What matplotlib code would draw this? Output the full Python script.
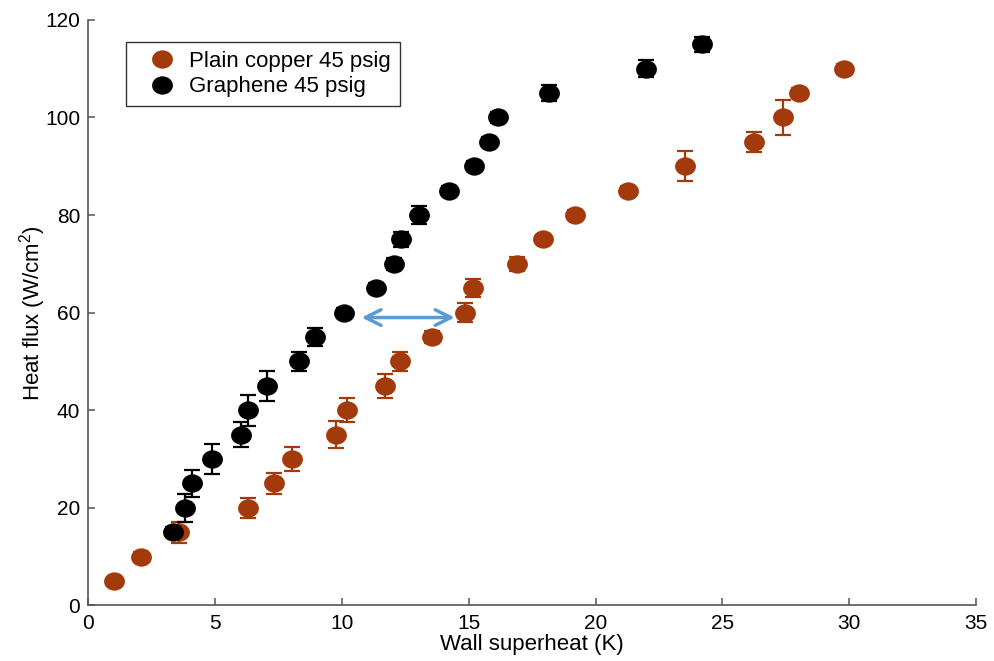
import numpy as np
import matplotlib
matplotlib.use('Agg')
import matplotlib.pyplot as plt
from matplotlib.path import Path

plt.rcParams['font.family'] = ['Liberation Sans', 'DejaVu Sans']
plt.rcParams['mathtext.fontset'] = 'custom'
plt.rcParams['mathtext.rm'] = 'Liberation Sans'
plt.rcParams['mathtext.default'] = 'regular'

# Plain copper, 45 psig
copper_dT = [1.0, 2.07, 3.57, 6.29, 7.30, 8.01, 9.78, 10.2, 11.7, 12.3, 13.56,
             14.85, 15.18, 16.9, 17.92, 19.18, 21.28, 23.54, 26.25, 27.37, 28.01, 29.8]
copper_q = [5, 10, 15, 20, 25, 30, 35, 40, 45, 50, 55,
            60, 65, 70, 75, 80, 85, 90, 95, 100, 105, 110]
copper_err = [0.5, 1.0, 2.2, 2.1, 2.1, 2.4, 2.8, 2.5, 2.4, 1.9, 1.2,
              1.9, 1.8, 1.5, 1.0, 1.0, 1.0, 3.1, 2.0, 3.5, 1.0, 1.0]

# Graphene coated, 45 psig
graphene_dT = [3.34, 3.79, 4.09, 4.89, 6.0, 6.29, 7.04, 8.29, 8.92, 10.06, 11.32,
               12.03, 12.34, 13.05, 14.23, 15.2, 15.8, 16.16, 18.17, 22.0, 24.2]
graphene_q = [15, 20, 25, 30, 35, 40, 45, 50, 55, 60, 65,
              70, 75, 80, 85, 90, 95, 100, 105, 110, 115]
graphene_err = [1.0, 2.8, 2.8, 3.1, 2.6, 3.2, 3.1, 1.9, 1.9, 1.0, 1.0,
                1.2, 1.5, 1.9, 1.0, 1.0, 1.0, 1.2, 1.6, 1.7, 1.5]

copper_col = '#a23a0c'
graphene_col = '#000000'

# slightly flattened circle marker
circ = Path.unit_circle()
oval = Path(circ.vertices * np.array([1.0, 0.88]), circ.codes)

fig = plt.figure(figsize=(9.94, 6.61), dpi=100)
ax = fig.add_axes([0.089, 0.084, 0.893, 0.886])

for dT, q, err, col in [(copper_dT, copper_q, copper_err, copper_col),
                        (graphene_dT, graphene_q, graphene_err, graphene_col)]:
    ax.errorbar(dT, q, yerr=err, fmt='none', ecolor=col, elinewidth=1.6,
                capsize=6, capthick=1.6, zorder=2)

ax.plot(copper_dT, copper_q, marker=oval, ls='none', color=copper_col, markersize=15,
        markeredgewidth=0, label='Plain copper 45 psig', zorder=3)
ax.plot(graphene_dT, graphene_q, marker=oval, ls='none', color=graphene_col, markersize=15,
        markeredgewidth=0, label='Graphene 45 psig', zorder=3)

# double arrow showing the superheat reduction at 60 W/cm2
i_g = graphene_q.index(60)
i_c = copper_q.index(60)
ax.annotate('', xy=(graphene_dT[i_g] + 0.6, 59), xytext=(copper_dT[i_c] - 0.3, 59),
            arrowprops=dict(arrowstyle='<->', color='#5b9bd5', lw=2.5,
                            mutation_scale=28), zorder=4)

ax.set_xlim(0, 35)
ax.set_ylim(0, 120)
ax.set_xticks(np.arange(0, 36, 5))
ax.set_yticks(np.arange(0, 121, 20))
ax.set_xlabel('Wall superheat (K)', fontsize=16, labelpad=1)
ax.set_ylabel('Heat flux (W/cm$^2$)', fontsize=16, labelpad=-2)

for side in ['top', 'right']:
    ax.spines[side].set_visible(False)
for side in ['left', 'bottom']:
    ax.spines[side].set_color('#555555')
    ax.spines[side].set_linewidth(1.2)
ax.tick_params(direction='in', length=5, width=1.1, color='#555555',
               labelsize=15, pad=6)

leg = ax.legend(loc='upper left', bbox_to_anchor=(0.042, 0.962), borderaxespad=0,
                fontsize=16, frameon=True, fancybox=False, edgecolor='#333333',
                framealpha=1, handletextpad=0.0, borderpad=0.4, labelspacing=0.2,
                numpoints=1, handlelength=2.45)
leg.get_frame().set_linewidth(1.0)

fig.savefig('out.png', dpi=100)
